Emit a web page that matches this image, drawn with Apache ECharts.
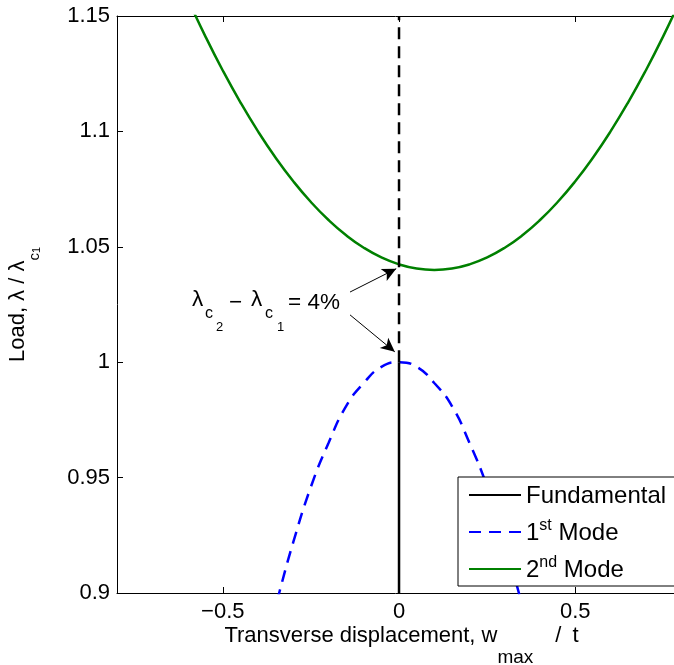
<!DOCTYPE html>
<html>
<head>
<meta charset="utf-8">
<script src="https://cdn.jsdelivr.net/npm/echarts@6/dist/echarts.min.js"></script>
<style>
  html, body { margin: 0; padding: 0; background: #fff; }
  #chart { width: 674px; height: 665px; }
</style>
</head>
<body>
<div id="chart"></div>
<script>
// tick positions
const xTicks = [-0.5, 0, 0.5]
const yTicks = [0.9, 0.95, 1, 1.05, 1.1, 1.15]

// fundamental path, w = 0
const fundX = [0, 0]
const fundY = [0.9, 1.0]
// continuation of the fundamental path above the bifurcation (dashed)
const postX = [0, 0]
const postY = [1.0, 1.15]

// 1st mode
const mode1X = [-0.36, -0.34, -0.3, -0.25, -0.2, -0.15, -0.1, -0.05, 0, 0.05, 0.1, 0.15, 0.2, 0.25, 0.3, 0.34, 0.36]
const mode1Y = [0.888, 0.9, 0.922, 0.946, 0.965, 0.981, 0.991, 0.998, 1.0, 0.998, 0.991, 0.981, 0.965, 0.946, 0.922, 0.9, 0.888]

// 2nd mode
const mode2X = [-0.6, -0.55, -0.5, -0.45, -0.4, -0.35, -0.3, -0.25, -0.2, -0.15, -0.1, -0.05, 0, 0.05, 0.1,
  0.15, 0.2, 0.25, 0.3, 0.35, 0.4, 0.45, 0.5, 0.55, 0.6, 0.65, 0.7, 0.75, 0.8]
const mode2Y = [1.1576, 1.1414, 1.1264, 1.1126, 1.1, 1.0886, 1.0784, 1.0694, 1.0616, 1.055, 1.0496, 1.0454, 1.0424, 1.0406, 1.04,
  1.0406, 1.0424, 1.0454, 1.0496, 1.055, 1.0616, 1.0694, 1.0784, 1.0886, 1.1, 1.1126, 1.1264, 1.1414, 1.1576]

// annotation arrows [fromX, fromY, toX, toY]
const arrowUp = [-0.139, 1.0304, -0.008, 1.0405]
const arrowDown = [-0.139, 1.0205, -0.012, 1.0045]

const FONT = "'Liberation Sans', Arial, sans-serif"
const zip = (xs, ys) => xs.map((x, i) => [x, ys[i]])
const minus = (v) => String(v).replace('-', '\u2212')

const chart = echarts.init(document.getElementById('chart'))

const axisLine = { show: true, onZero: false, lineStyle: { color: '#000', width: 1 } }
const xBase = {
  type: 'value',
  min: -0.8,
  max: 0.78,
  axisLine: axisLine,
  splitLine: { show: false },
  axisTick: { show: true, inside: true, length: 6, customValues: xTicks, lineStyle: { color: '#000' } },
}

const txt = (size, extra) => Object.assign({ fontSize: size, fontFamily: FONT, color: '#000' }, extra)

const option = {
  animation: false,
  backgroundColor: '#fff',
  textStyle: { fontFamily: FONT },
  grid: { left: 117, top: 16, bottom: 72, right: 0, outerBoundsMode: 'none' },
  xAxis: [
    {
      ...xBase,
      position: 'bottom',
      axisLabel: {
        customValues: xTicks,
        formatter: minus,
        color: '#000',
        fontSize: 22,
        fontFamily: FONT,
        margin: 8,
      },
      name: '{n|Transverse displacement, w}{s|max}{n|\u2002\u2002/\u2002t}',
      nameLocation: 'middle',
      nameGap: 32,
      nameMoveOverlap: false,
      nameTextStyle: {
        color: '#000',
        padding: [0, 0, 0, 12],
        rich: {
          n: txt(22, { lineHeight: 42, verticalAlign: 'top' }),
          s: txt(19, { lineHeight: 19, verticalAlign: 'bottom' }),
        },
      },
    },
    {
      ...xBase,
      position: 'top',
      axisLabel: { show: false },
    },
  ],
  yAxis: {
    type: 'value',
    min: 0.9,
    max: 1.15,
    interval: 0.05,
    axisLine: axisLine,
    splitLine: { show: false },
    axisTick: { show: true, inside: true, length: 6, lineStyle: { color: '#000' } },
    axisLabel: { color: '#000', fontSize: 22, fontFamily: FONT, margin: 7 },
    name: '{n|Load, \u03bb / \u03bb}{c|c}{s|1}',
    nameLocation: 'middle',
    nameRotate: 90,
    nameGap: 75,
    nameMoveOverlap: false,
    nameTextStyle: {
      color: '#000',
      rich: {
        n: txt(22, { lineHeight: 35, verticalAlign: 'top' }),
        c: txt(15, { lineHeight: 15, verticalAlign: 'bottom' }),
        s: txt(11, { lineHeight: 11, verticalAlign: 'bottom' }),
      },
    },
  },
  legend: {
    left: 458,
    top: 477,
    orient: 'vertical',
    selectedMode: false,
    backgroundColor: '#fff',
    borderColor: '#000',
    borderWidth: 1,
    borderRadius: 0,
    padding: [4, 10, 4, 10],
    itemWidth: 52,
    itemHeight: 14,
    itemGap: 10,
    itemStyle: { opacity: 0 },
    data: ['Fundamental', '1st Mode', '2nd Mode'],
    formatter: (name) => {
      if (name === '1st Mode') return '{t|1}{p|st}{t| Mode}'
      if (name === '2nd Mode') return '{t|2}{p|nd}{t| Mode}'
      return '{t|' + name + '}'
    },
    textStyle: {
      color: '#000',
      rich: {
        t: txt(24, { lineHeight: 28, verticalAlign: 'top', padding: [3, 0, 0, 0] }),
        p: txt(16, { lineHeight: 16, verticalAlign: 'top' }),
      },
    },
  },
  series: [
    {
      name: 'Fundamental',
      type: 'line',
      data: zip(fundX, fundY),
      symbol: 'none',
      lineStyle: { color: '#000', width: 2.5 },
      itemStyle: { color: '#000' },
      z: 4,
    },
    {
      name: 'post',
      type: 'line',
      data: zip(postX, postY),
      symbol: 'none',
      lineStyle: { color: '#000', width: 2.5, type: [12, 7] },
      z: 4,
      markLine: {
        silent: true,
        symbol: ['none', 'arrow'],
        symbolSize: [10, 14],
        label: { show: false },
        lineStyle: { color: '#000', width: 1, type: 'solid' },
        data: [
          [{ coord: arrowUp.slice(0, 2) }, { coord: arrowUp.slice(2) }],
          [{ coord: arrowDown.slice(0, 2) }, { coord: arrowDown.slice(2) }],
        ],
      },
    },
    {
      name: '1st Mode',
      type: 'line',
      data: zip(mode1X, mode1Y),
      smooth: true,
      symbol: 'none',
      lineStyle: { color: '#0000ff', width: 2.5, type: [12, 8] },
      itemStyle: { color: '#0000ff' },
      z: 3,
    },
    {
      name: '2nd Mode',
      type: 'line',
      data: zip(mode2X, mode2Y),
      smooth: true,
      symbol: 'none',
      lineStyle: { color: '#008000', width: 2.5 },
      itemStyle: { color: '#008000' },
      z: 3,
    },
  ],
  graphic: [
    { type: 'text', left: 192, top: 288, style: { text: '\u03bb', font: '22.5px ' + FONT, fill: '#000' } },
    { type: 'text', left: 205, top: 306, style: { text: 'c', font: '16px ' + FONT, fill: '#000' } },
    { type: 'text', left: 216, top: 321, style: { text: '2', font: '13px ' + FONT, fill: '#000' } },
    { type: 'text', left: 229, top: 291, style: { text: '\u2212', font: '22.5px ' + FONT, fill: '#000' } },
    { type: 'text', left: 251, top: 288, style: { text: '\u03bb', font: '22.5px ' + FONT, fill: '#000' } },
    { type: 'text', left: 265, top: 306, style: { text: 'c', font: '16px ' + FONT, fill: '#000' } },
    { type: 'text', left: 277, top: 321, style: { text: '1', font: '13px ' + FONT, fill: '#000' } },
    { type: 'text', left: 288, top: 291, style: { text: '= 4%', font: '22.5px ' + FONT, fill: '#000' } },
  ],
}

chart.setOption(option)
</script>
</body>
</html>
